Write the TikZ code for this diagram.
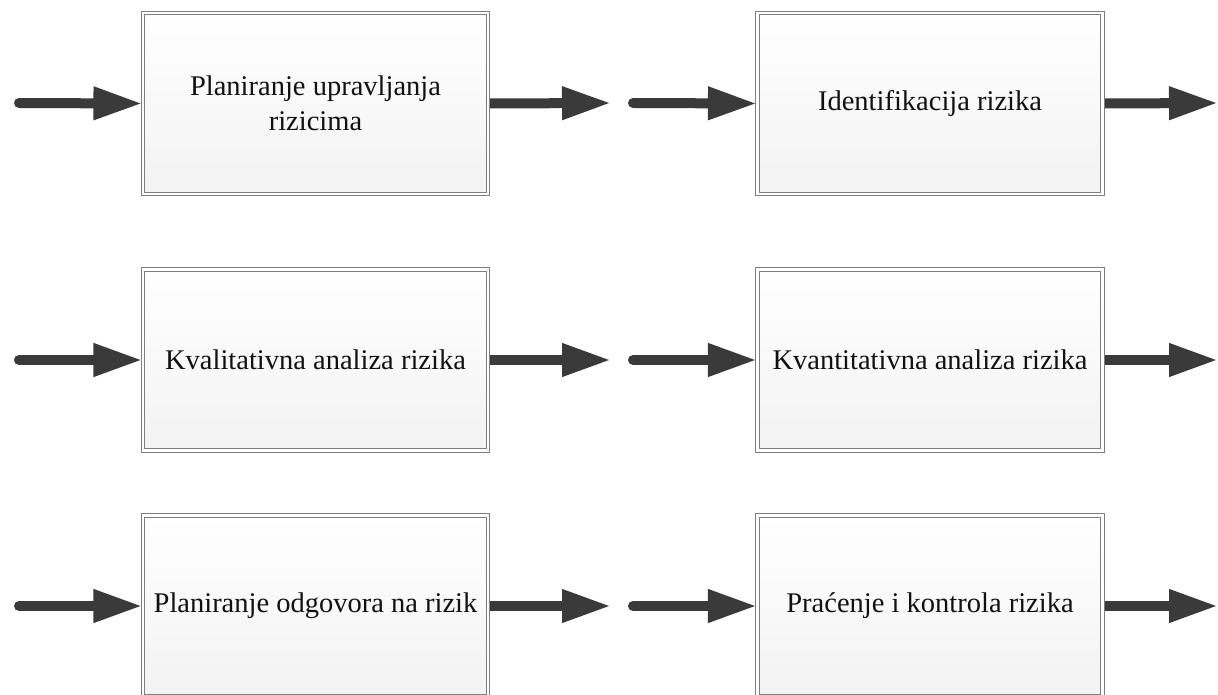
\documentclass[tikz,border=0pt]{standalone}
\usepackage{fontspec}
\setmainfont{Liberation Serif}
\usetikzlibrary{arrows.meta,backgrounds}
\definecolor{arrowgray}{HTML}{3A3A3A}
\definecolor{framegray}{HTML}{7E7E7E}
\definecolor{textgray}{HTML}{111111}
\tikzset{
  stepbox/.style={rectangle, draw=framegray, line width=1.1pt, double=white,
    double distance=2.4pt, top color=white, bottom color=black!5,
    minimum width=345pt, minimum height=181pt, inner sep=2pt,
    align=center, font=\fontsize{28.5}{35}\selectfont, text=textgray},
  flow/.style={draw=arrowgray, line width=10pt, line cap=round,
    -{Triangle[length=49pt,width=31pt]}}
}
\begin{document}
\begin{tikzpicture}[x=1pt,y=-1pt]
\useasboundingbox (0,0) rectangle (1218,695);
% process steps, two columns by three rows
\node[stepbox] (plan) at (315.5,103.5) {Planiranje upravljanja\\rizicima};
\node[stepbox] (ident) at (930,103.5) {Identifikacija rizika};
\node[stepbox] (kval) at (315.5,360) {Kvalitativna analiza rizika};
\node[stepbox] (kvant) at (930,360) {Kvantitativna analiza rizika};
\node[stepbox] (odgovor) at (315.5,606) {Planiranje odgovora na rizik};
\node[stepbox] (pracenje) at (930,606) {Praćenje i kontrola rizika};
% free ends of the connectors
\foreach \r/\y in {1/103,2/360,3/606}{
  \coordinate (inA\r) at (19,\y);
  \coordinate (outA\r) at (611,\y);
  \coordinate (inB\r) at (633,\y);
  \coordinate (outB\r) at (1218,\y);
}
\begin{scope}[on background layer]
\draw[flow] (inA1) -- (plan.west);
\draw[flow] (plan.east) -- (outA1);
\draw[flow] (inB1) -- (ident.west);
\draw[flow] (ident.east) -- (outB1);
\draw[flow] (inA2) -- (kval.west);
\draw[flow] (kval.east) -- (outA2);
\draw[flow] (inB2) -- (kvant.west);
\draw[flow] (kvant.east) -- (outB2);
\draw[flow] (inA3) -- (odgovor.west);
\draw[flow] (odgovor.east) -- (outA3);
\draw[flow] (inB3) -- (pracenje.west);
\draw[flow] (pracenje.east) -- (outB3);
\end{scope}
\end{tikzpicture}
\end{document}
